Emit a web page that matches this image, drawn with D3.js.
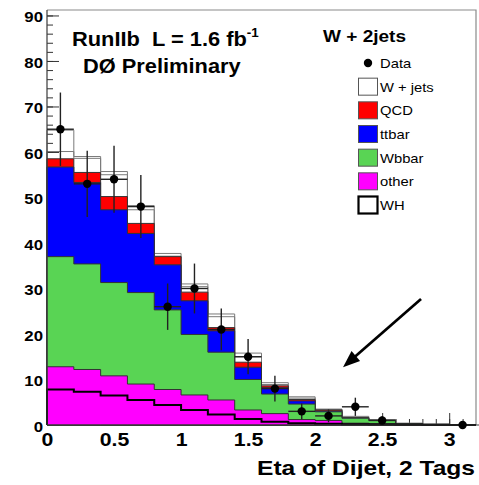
<!DOCTYPE html>
<html>
<head>
<meta charset="utf-8">
<script src="https://cdn.jsdelivr.net/npm/d3@7"></script>
<style>
  body { margin: 0; background: #fff; }
  svg { display: block; }
  text { font-family: "Liberation Sans", Arial, Helvetica, sans-serif; white-space: pre; }
</style>
</head>
<body>
<svg id="chart" width="479" height="485"></svg>
<script>
// ---- histogram binning (dijet eta) ----
const binEdges = [0, 0.2, 0.4, 0.6, 0.8, 1.0, 1.2, 1.4, 1.6, 1.8, 2.0, 2.2, 2.4, 2.6, 2.8, 3.0, 3.2];

// ---- background contributions per bin (events) ----
const other     = [12.8, 12.2, 10.8, 9.0, 7.8, 6.6, 5.5, 3.3, 2.5, 1.2, 1.0, 0.4, 0.3, 0.1, 0.05, 0];
const wbbar     = [24.2, 23.2, 20.5, 20.1, 17.5, 13.3, 10.5, 6.7, 4.3, 3.4, 1.9, 1.1, 0.7, 0.2, 0.1, 0];
const ttbar     = [19.7, 17.9, 16.0, 13.0, 9.9, 7.4, 4.7, 2.7, 1.4, 0.7, 0.2, 0.05, 0, 0, 0, 0];
const qcd       = [1.8, 2.2, 2.9, 2.2, 1.8, 1.9, 0.7, 1.1, 0.4, 0.3, 0.2, 0.05, 0, 0, 0, 0];
const wjetsLow  = [1.6, 3.1, 4.8, 3.0, 0.1, 1.2, 2.4, 1.2, 0.3, 0.3, 0.1, 0.1, 0.1, 0.05, 0, 0];
const wjetsHigh = [4.7, 0.4, 0.7, 0.9, 0.6, 0.6, 0.6, 0.8, 0.4, 0.3, 0.1, 0.2, 0.1, 0.05, 0, 0];

// ---- WH signal (drawn as an outline) ----
const wh = [7.8, 7.3, 6.5, 5.5, 4.4, 3.3, 2.3, 1.3, 0.7, 0.4, 0.3, 0.15, 0.1, 0.05, 0, 0];

// ---- observed events per bin (null = no entry drawn) ----
const observed = [65, 53, 54, 48, 26, 30, 21, 15, 8, 3, 2, 4, 1, null, null, 0];

// ---- axis ticks ----
const yMajorTicks = [0, 10, 20, 30, 40, 50, 60, 70, 80, 90];
const xMajorTicks = [0, 0.5, 1, 1.5, 2, 2.5, 3];

const layerKeys = ["other", "wbbar", "ttbar", "qcd", "wjetsLow", "wjetsHigh"];
const layerSeries = { other, wbbar, ttbar, qcd, wjetsLow, wjetsHigh };
const layerFill = { other: "#ff00ff", wbbar: "#59d454", ttbar: "#0000ff", qcd: "#ff0000", wjetsLow: "none", wjetsHigh: "none" };
const layerStroke = { other: "#333", wbbar: "#333", ttbar: "#333", qcd: "#333", wjetsLow: "#7a7a7a", wjetsHigh: "#7a7a7a" };

const legendEntries = [
  { label: "Data", kind: "marker" },
  { label: "W + jets", kind: "box", fill: "#ffffff", stroke: "#555", sw: 1 },
  { label: "QCD", kind: "box", fill: "#ff0000", stroke: "#555", sw: 1 },
  { label: "ttbar", kind: "box", fill: "#0000ff", stroke: "#555", sw: 1 },
  { label: "Wbbar", kind: "box", fill: "#59d454", stroke: "#555", sw: 1 },
  { label: "other", kind: "box", fill: "#ff00ff", stroke: "#555", sw: 1 },
  { label: "WH", kind: "box", fill: "#ffffff", stroke: "#000", sw: 2.2 }
];

const SX = 1.12; // horizontal text stretch

const svg = d3.select("#chart");
const x = d3.scaleLinear().domain([0, 3.2]).range([47, 476]);
const y = d3.scaleLinear().domain([0, 91.2]).range([425, 10]);

const rows = binEdges.slice(0, -1).map((lo, i) => {
  const r = { lo, hi: binEdges[i + 1] };
  layerKeys.forEach(k => r[k] = layerSeries[k][i]);
  return r;
});
const stacked = d3.stack().keys(layerKeys)(rows);

function text(parent, str, px, py, size, opts = {}) {
  const t = parent.append("text")
    .attr("transform", `translate(${px},${py}) scale(${opts.sx || SX},1)`)
    .attr("font-size", size)
    .attr("font-weight", opts.weight || "bold")
    .attr("text-anchor", opts.anchor || "start")
    .attr("fill", opts.color || "#000");
  if (opts.textLength) t.attr("textLength", opts.textLength / (opts.sx || SX)).attr("lengthAdjust", "spacingAndGlyphs");
  t.text(str);
  return t;
}

// ---- frame ----
svg.append("path")
  .attr("d", `M${x(0)},${y(91.2)}H${x(3.2)}V${y(0)}`)
  .attr("fill", "none").attr("stroke", "#8a8a8a").attr("stroke-width", 1.2);

// ---- axes (drawn before histograms so fills cover the ticks) ----
const yMinor = d3.axisLeft(y).tickValues(d3.range(0, 91, 2)).tickSize(-6).tickFormat("");
const yMajor = d3.axisLeft(y).tickValues(yMajorTicks).tickSize(-12).tickPadding(5).tickFormat(d3.format("d"));
const xMinor = d3.axisBottom(x).tickValues(d3.range(0, 32).map(i => i / 10)).tickSize(-6).tickFormat("");
const xMajor = d3.axisBottom(x).tickValues(xMajorTicks).tickSize(-12).tickFormat(d => d3.format("")(d));

function styleAxis(g) {
  g.select(".domain").remove();
  g.selectAll(".tick line").attr("stroke", "#333").attr("stroke-width", 1);
}

const gyMinor = svg.append("g").attr("transform", `translate(${x(0)},0)`).call(yMinor).call(styleAxis);
const gyMajor = svg.append("g").attr("transform", `translate(${x(0)},0)`).call(yMajor).call(styleAxis);
gyMajor.selectAll(".tick text")
  .attr("font-family", "Liberation Sans, Arial, sans-serif")
  .attr("font-size", 15).attr("font-weight", "bold").attr("fill", "#000")
  .attr("dy", "0.42em")
  .attr("x", -4 / SX)
  .attr("transform", `scale(${SX},1)`);

const gxMinor = svg.append("g").attr("transform", `translate(0,${y(0)})`).call(xMinor).call(styleAxis);
const gxMajor = svg.append("g").attr("transform", `translate(0,${y(0)})`).call(xMajor).call(styleAxis);
gxMajor.selectAll(".tick text")
  .attr("font-family", "Liberation Sans, Arial, sans-serif")
  .attr("font-size", 19).attr("font-weight", "bold").attr("fill", "#000")
  .attr("y", 21).attr("dy", 0)
  .attr("transform", `scale(${SX},1)`);

// ---- stacked backgrounds: cumulative step histograms, drawn top-down ----
function stepPoints(tops) {
  const pts = [];
  tops.forEach((v, i) => {
    pts.push([binEdges[i], v]);
    pts.push([binEdges[i + 1], v]);
  });
  return pts;
}
const stepArea = d3.area().x(d => x(d[0])).y0(y(0)).y1(d => y(d[1])).curve(d3.curveLinear);

const gStack = svg.append("g");
stacked.slice().reverse().forEach(layer => {
  const tops = layer.map(d => d[1]);
  gStack.append("path")
    .attr("d", stepArea(stepPoints(tops)))
    .attr("fill", layerFill[layer.key])
    .attr("stroke", layerStroke[layer.key])
    .attr("stroke-width", 1);
});

// ---- WH outline ----
const stepLine = d3.line().x(d => x(d[0])).y(d => y(d[1]));
svg.append("path")
  .attr("d", stepLine([[0, 0], ...stepPoints(wh), [3.2, 0]]))
  .attr("fill", "none").attr("stroke", "#000").attr("stroke-width", 2);

// axis lines on top
svg.append("line").attr("x1", x(0)).attr("x2", x(0)).attr("y1", y(0)).attr("y2", y(91.2))
  .attr("stroke", "#3a3a3a").attr("stroke-width", 1.2);
svg.append("line").attr("x1", x(0)).attr("x2", 479).attr("y1", y(0)).attr("y2", y(0))
  .attr("stroke", "#3a3a3a").attr("stroke-width", 1.2);

// ---- observed data with errors ----
const gData = svg.append("g");
observed.forEach((n, i) => {
  if (n === null) return;
  const cx = x((binEdges[i] + binEdges[i + 1]) / 2);
  const err = Math.sqrt(n);
  if (n > 0) {
    gData.append("line").attr("x1", x(binEdges[i])).attr("x2", x(binEdges[i + 1]))
      .attr("y1", y(n)).attr("y2", y(n)).attr("stroke", "#222").attr("stroke-width", 1.4);
    gData.append("line").attr("x1", cx).attr("x2", cx)
      .attr("y1", y(n - err)).attr("y2", y(n + err)).attr("stroke", "#222").attr("stroke-width", 1.4);
  }
  gData.append("circle").attr("cx", cx).attr("cy", y(n)).attr("r", 4.2).attr("fill", "#000");
});

// ---- annotation arrow (data coordinates) ----
const arrowFrom = [2.79, 27.7], arrowTo = [2.208, 12.7];
(function () {
  const sx = x(arrowFrom[0]), sy = y(arrowFrom[1]);
  const tx = x(arrowTo[0]), ty = y(arrowTo[1]);
  const len = Math.hypot(tx - sx, ty - sy);
  const ux = (tx - sx) / len, uy = (ty - sy) / len;
  const hl = 17, hw = 6.5;
  const bx = tx - ux * hl, by = ty - uy * hl;
  svg.append("line").attr("x1", sx).attr("y1", sy).attr("x2", bx + ux * 2).attr("y2", by + uy * 2)
    .attr("stroke", "#000").attr("stroke-width", 2.7);
  svg.append("path")
    .attr("d", `M${tx},${ty}L${bx - uy * hw},${by + ux * hw}L${bx + uy * hw},${by - ux * hw}Z`)
    .attr("fill", "#000");
})();

// ---- labels ----
const t1 = text(svg, "RunIIb  L = 1.6 fb", 72, 45.5, 19.5);
t1.append("tspan").attr("dy", -9).attr("font-size", 12).text("-1");
text(svg, "DØ Preliminary", 83, 73, 19.5);

text(svg, "Eta of Dijet, 2 Tags", 475, 475, 19.5, { anchor: "end", textLength: 218 });

// ---- legend ----
const gLeg = svg.append("g");
text(gLeg, "W + 2jets", 323, 41.5, 17);
const rowY = d3.scaleLinear().domain([0, 6]).range([63, 205]);
legendEntries.forEach((e, i) => {
  const cy = rowY(i);
  if (e.kind === "marker") {
    gLeg.append("circle").attr("cx", 368).attr("cy", cy).attr("r", 4.2).attr("fill", "#000");
  } else {
    gLeg.append("rect").attr("x", 358.5).attr("y", cy - 8.5).attr("width", 19).attr("height", 17)
      .attr("fill", e.fill).attr("stroke", e.stroke).attr("stroke-width", e.sw);
  }
  text(gLeg, e.label, 380, cy + 5, 13.2, { weight: "normal" });
});
</script>
</body>
</html>
